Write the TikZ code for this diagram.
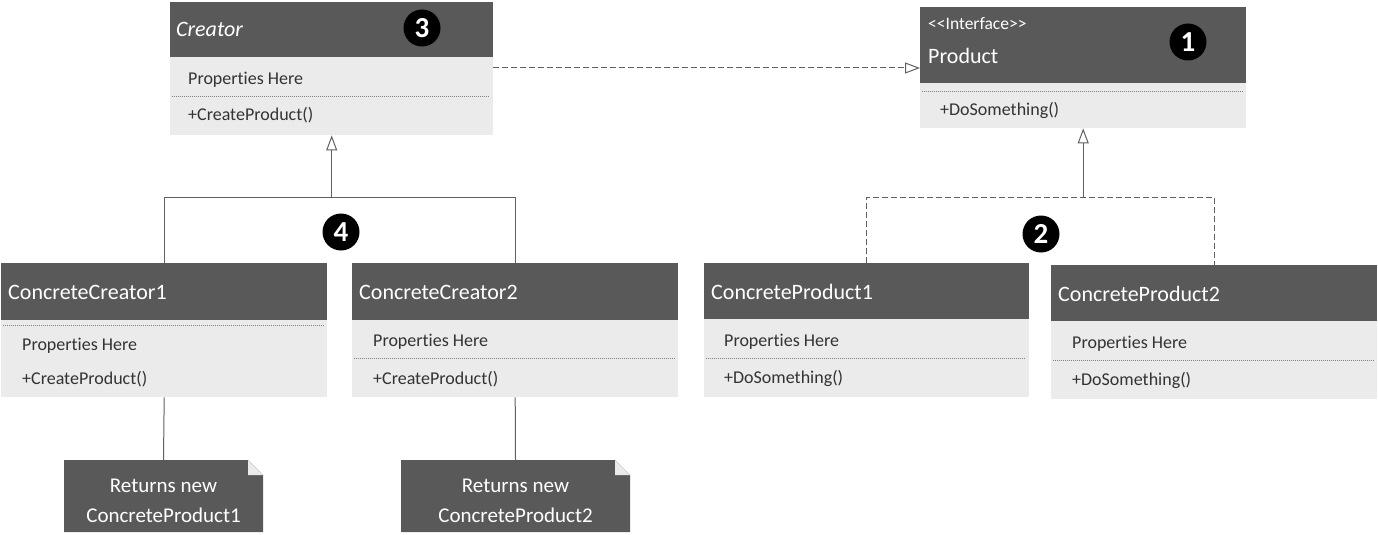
\documentclass[tikz,border=0pt]{standalone}
\usepackage{fontspec}
\setmainfont{Carlito}[Ligatures=NoCommon]
\usetikzlibrary{arrows.meta,calc}

\definecolor{hdgray}{HTML}{595959}
\definecolor{bdgray}{HTML}{EBEBEB}
\definecolor{lngray}{HTML}{606060}

\begin{document}
\begin{tikzpicture}[
x=1pt, y=-1pt,
head/.style={rectangle, fill=hdgray, anchor=north west, inner sep=0pt},
body/.style={rectangle, fill=bdgray, anchor=north west, inner sep=0pt},
title/.style={anchor=west, inner sep=0pt, text=white, font=\fontsize{22}{26}\selectfont},
member/.style={anchor=west, inner sep=0pt, yshift=-1.5pt, text=black!80, font=\fontsize{18}{21}\selectfont},
sep/.style={draw=gray, line width=0.8pt, dash pattern=on 1pt off 1pt},
badge/.style={circle, fill=black, text=white, inner sep=0pt, minimum size=37pt, font=\bfseries\fontsize{29}{30}\selectfont},
note/.style={rectangle, inner sep=0pt, fill=white,
  path picture={
    \fill[hdgray] (path picture bounding box.south west) -- (path picture bounding box.north west)
      -- ([xshift=-15pt]path picture bounding box.north east) -- ([yshift=-15pt]path picture bounding box.north east)
      -- (path picture bounding box.south east) -- cycle;
    \fill[bdgray] ([xshift=-15pt]path picture bounding box.north east) -- ([yshift=-15pt]path picture bounding box.north east)
      -- ([xshift=-15pt,yshift=-15pt]path picture bounding box.north east) -- cycle;
  }},
notetext/.style={inner sep=0pt, text=white, align=center, font=\fontsize{21}{30}\selectfont},
link/.style={draw=lngray, line width=1pt},
dashlink/.style={dash pattern=on 6pt off 3pt},
inherit/.style={link, -{Triangle[open, length=15pt, width=11pt]}},
]
\useasboundingbox (0,0) rectangle (1378,535);

% Creator
\node[head, minimum width=323pt, minimum height=55pt] (creH) at (170,2) {};
\node[body, minimum width=323pt, minimum height=78pt] (creB) at (170,57) {};
\node[title, font=\itshape\fontsize{22}{26}\selectfont] (creT) at (176,29) {Creator};
\node[badge] (b3) at (422,28) {3};
\node[member] (creP) at (188,78) {Properties Here};
\draw[sep] (172,96) -- (490,96);
\node[member] (creM) at (188,114) {+CreateProduct()};

% Product
\node[head, minimum width=326pt, minimum height=76pt] (prodH) at (920,7) {};
\node[body, minimum width=326pt, minimum height=45pt] (prodB) at (920,83) {};
\node[title, font=\fontsize{17.5}{20}\selectfont] (prodS) at (928,24) {<{}<Interface>{}>};
\node[title] (prodT) at (928,56) {Product};
\node[badge] (b1) at (1188,42) {1};
\draw[sep] (922,91) -- (1243,91);
\node[member] (prodM) at (940,109) {+DoSomething()};

% ConcreteCreator1
\node[head, minimum width=326pt, minimum height=57pt] (cc1H) at (1,263) {};
\node[body, minimum width=326pt, minimum height=77pt] (cc1B) at (1,320) {};
\node[title] (cc1T) at (8,292) {ConcreteCreator1};
\draw[sep] (3,325) -- (324,325);
\node[member] (cc1P) at (22,344) {Properties Here};
\node[member] (cc1M) at (22,378) {+CreateProduct()};

% ConcreteCreator2
\node[head, minimum width=326pt, minimum height=57pt] (cc2H) at (352,263) {};
\node[body, minimum width=326pt, minimum height=77pt] (cc2B) at (352,320) {};
\node[title] (cc2T) at (359,292) {ConcreteCreator2};
\node[member] (cc2P) at (373,340) {Properties Here};
\draw[sep] (354,358) -- (675,358);
\node[member] (cc2M) at (373,378) {+CreateProduct()};

% ConcreteProduct1
\node[head, minimum width=325pt, minimum height=56pt] (cp1H) at (704,263) {};
\node[body, minimum width=325pt, minimum height=78pt] (cp1B) at (704,319) {};
\node[title] (cp1T) at (711,292) {ConcreteProduct1};
\node[member] (cp1P) at (724,340) {Properties Here};
\draw[sep] (706,358) -- (1026,358);
\node[member] (cp1M) at (724,377) {+DoSomething()};

% ConcreteProduct2
\node[head, minimum width=326pt, minimum height=56pt] (cp2H) at (1051,265) {};
\node[body, minimum width=326pt, minimum height=78pt] (cp2B) at (1051,321) {};
\node[title] (cp2T) at (1058,294) {ConcreteProduct2};
\node[member] (cp2P) at (1072,342) {Properties Here};
\draw[sep] (1053,360) -- (1374,360);
\node[member] (cp2M) at (1072,379) {+DoSomething()};

% notes
\node[note, minimum width=199pt, minimum height=72pt] (n1) at (163.5,496) {};
\node[notetext] (n1t) at (163.5,501) {Returns new\\ConcreteProduct1};
\node[note, minimum width=229pt, minimum height=72pt] (n2) at (515.5,496) {};
\node[notetext] (n2t) at (515.5,501) {Returns new\\ConcreteProduct2};

\node[badge] (b4) at (341,232) {4};
\node[badge] (b2) at (1041,234) {2};

% connectors
\coordinate (crJ) at ($(creB.south)+(0,62)$);
\coordinate (prJ) at ($(prodB.south)+(0,69)$);
\draw[link] (cc1H.north) |- (crJ) -| (cc2H.north);
\draw[inherit] (crJ) -- (creB.south);
\draw[link, dashlink] (cp1H.north) |- (prJ) -| (cp2H.north);
\draw[inherit] (prJ) -- (prodB.south);
\draw[inherit, dashlink] ([yshift=-11pt]creB.north east) -- ([yshift=-11pt]creB.north east -| prodH.west);
\draw[link] (cc1B.south) -- (n1.north);
\draw[link] (cc2B.south) -- (n2.north);
\end{tikzpicture}
\end{document}
